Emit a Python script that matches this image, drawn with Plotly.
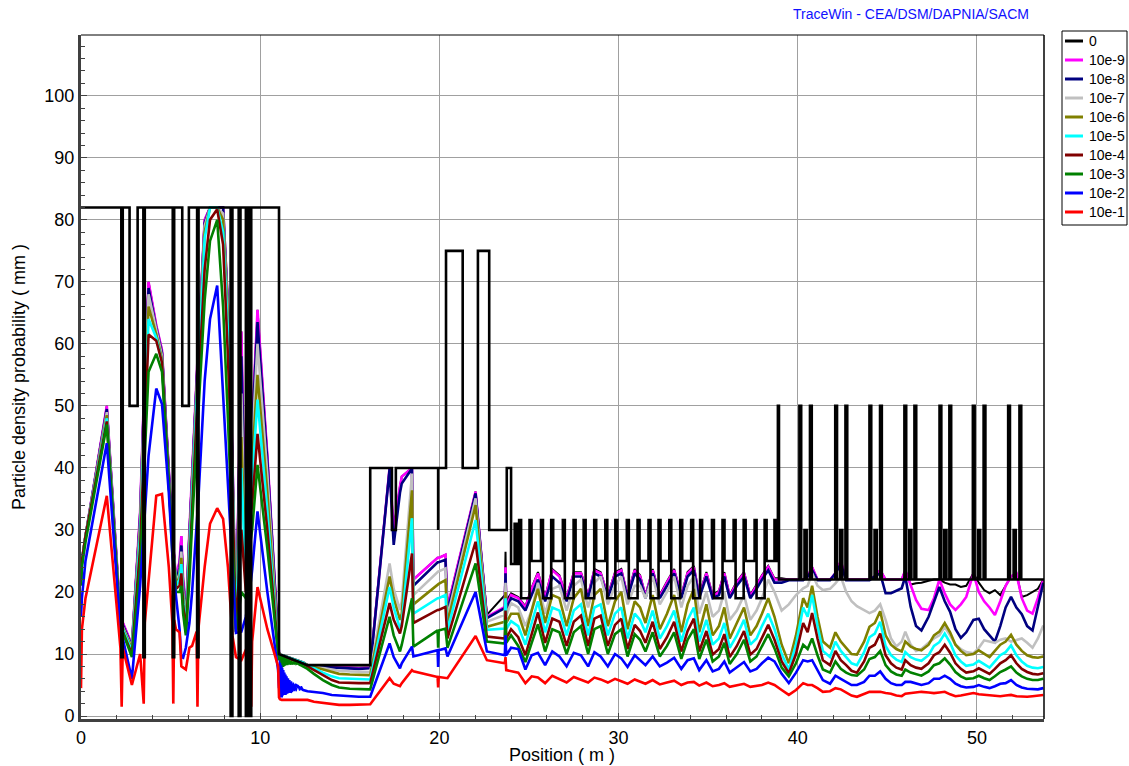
import plotly.graph_objects as go

# ---------------- data ----------------
series_names = ["0", "10e-9", "10e-8", "10e-7", "10e-6", "10e-5", "10e-4", "10e-3", "10e-2", "10e-1"]
series_colors = ["#000000", "#ff00ff", "#000080", "#c0c0c0", "#808000", "#00ffff", "#800000", "#008000", "#0000ff", "#ff0000"]

# Section A (0 - 11 m)
xA = [0.0, 0.05, 0.25, 1.44, 2.2, 2.27, 2.33, 2.84, 3.3, 3.5, 3.56, 3.77, 4.2, 4.52, 4.9, 5.1, 5.15, 5.2, 5.3, 5.5,
      5.6, 5.7, 5.85, 6.05, 6.2, 6.45, 6.5, 6.55, 6.9, 7.2, 7.6, 7.93, 8.2, 8.45, 8.65, 8.95, 9.2, 9.45, 9.5, 9.55,
      9.85, 10.4, 11.0]
magA = [22, 25, 29, 50, 16, 15.5, 15, 11.5, 33, 50, 56, 70, 63, 59, 39, 28, 27, 26, 22, 25, 29, 22, 16, 30, 40, 55, 57.5, 60, 80, 82, 82, 82, 66, 42, 14, 62, 25, 45, 46, 47, 65.5, 42, 11]
navyA = [22, 25, 29, 49.5, 15.5, 15.2, 14.7, 11.2, 32, 49, 55, 69, 62.5, 58.5, 38.5, 27.5, 26.5, 25.5, 21.5, 24, 27.5, 21, 15.5, 29, 39, 54, 56.5, 59, 79.5, 82, 82, 82, 66, 41, 14, 58, 24, 44, 45, 46, 63.5, 41, 11]
greyA = [22, 25, 29, 49, 15.2, 14.9, 14.4, 11, 31, 48, 54, 68, 62, 58, 38, 27.5, 26.5, 25.5, 21.5, 23, 26.5, 20, 15, 28, 38, 53, 55.5, 58, 79, 82, 82, 81, 65, 40, 14, 52, 23, 42, 43, 44, 60, 39, 11]
oliveA = [22, 25, 29, 48.5, 15, 14.7, 14.2, 10.8, 30, 46, 52, 66, 61.5, 57.5, 37.5, 27, 26, 25, 21, 22.5, 25.5, 19.5, 14.5, 27, 37, 52, 54.5, 57, 78, 82, 82, 80, 64, 39, 14, 45, 22, 39, 40, 41, 55, 36, 11]
cyanA = [22, 25, 29, 48, 14.8, 14.5, 14, 10.5, 29, 45, 50, 64, 61, 57, 37.5, 27, 26, 25, 21, 22, 24.5, 19, 14, 26, 36, 51, 53.5, 56, 77, 82, 82, 78, 62, 38, 13.8, 40, 21, 36, 37, 38, 51, 33, 10.5]
dredA = [22, 25, 29, 47.5, 14.5, 14, 13.8, 10, 27, 42, 47, 61.5, 60.5, 57, 37.5, 26.5, 25.5, 24.5, 20.5, 21, 23, 18, 13.5, 24, 34, 48, 50.5, 53, 72, 80, 81.7, 76, 58, 36, 13.6, 30, 20, 32, 33, 34, 45.5, 30, 10.5]
greenA = [21, 24, 28, 47, 14.5, 14, 13.5, 9.5, 24, 37, 42, 55.5, 58.4, 55.5, 37.5, 26, 25, 24, 20, 20, 21, 16.5, 13, 22, 31, 45, 47, 49, 67, 76.6, 80, 66, 48, 30, 13.5, 20, 19, 28, 29, 30, 40.5, 27, 10]
blueA = [16, 19, 25, 44, 14, 13.5, 12.5, 6, 21, 30.5, 33, 42, 52.8, 50.3, 36, 25, 23.5, 22, 19, 14, 9.5, 9.4, 11, 15, 20, 30, 33, 35, 54, 64, 69.4, 52, 38, 24.6, 13.4, 13.6, 16, 21, 22, 23.5, 33, 20, 7.4]
redA = [4.5, 14, 19, 35.5, 11, 1.5, 11, 5, 10, 2, 15, 22, 35.5, 35.8, 24, 15, 2, 15.5, 14, 13.5, 8, 7.8, 7.5, 11, 11.3, 13.6, 1.5, 14, 24, 31, 33.5, 31.8, 24, 13, 9.5, 9, 10.7, 11, 1.5, 12, 20.8, 14, 8]

# Section B (11 - 16.1 m)
xB = [11.05, 11.1, 11.2, 11.3, 11.4, 11.5, 11.7, 12.0, 12.4, 12.64, 13.0, 13.5, 14.0, 14.4, 15.0, 15.5, 16.1]
envB = [10, 10, 9.9, 9.8, 9.7, 9.6, 9.4, 9.1, 8.7, 8.2, 8.2, 8.2, 8.2, 8.2, 8.2, 8.2, 8.2]
magB = [10, 9.9, 9.8, 9.7, 9.6, 9.5, 9.3, 9.0, 8.6, 8.2, 8.1, 8.0, 7.9, 7.8, 7.8, 7.7, 7.8]
navyB = [10, 9.9, 9.8, 9.7, 9.6, 9.5, 9.3, 9.0, 8.6, 8.2, 8.0, 7.9, 7.8, 7.7, 7.7, 7.6, 7.7]
greyB = [10, 9.9, 9.8, 9.7, 9.6, 9.5, 9.3, 9.0, 8.6, 8.2, 8.0, 7.8, 7.5, 7.3, 7.2, 7.1, 7.1]
oliveB = [10, 9.9, 9.8, 9.7, 9.6, 9.5, 9.3, 9.0, 8.6, 8.2, 7.9, 7.5, 7.1, 6.8, 6.7, 6.6, 6.6]
cyanB = [10, 9.9, 9.8, 9.7, 9.6, 9.5, 9.3, 9.0, 8.6, 8.1, 7.7, 7.0, 6.4, 6.1, 6.0, 5.9, 5.9]
dredB = [10, 9.9, 9.7, 9.6, 9.4, 9.3, 9.1, 8.8, 8.4, 8.0, 7.4, 6.6, 5.8, 5.4, 5.3, 5.3, 5.3]
greenB = [9, 9.6, 8.2, 9.4, 8.3, 9.2, 8.5, 8.6, 8.0, 7.6, 6.8, 5.8, 5.0, 4.6, 4.4, 4.3, 4.3]
blueB = [4.5, 7.2, 3.0, 6.5, 3.4, 5.8, 3.8, 5.0, 4.2, 4.0, 3.9, 3.7, 3.4, 3.3, 3.2, 3.1, 3.1]
redB = [3.0, 2.7, 2.6, 2.6, 2.6, 2.6, 2.6, 2.6, 2.6, 2.6, 2.3, 2.1, 1.9, 1.8, 1.8, 1.8, 1.9]

noise_x = [11.08, 11.11, 11.14, 11.17, 11.2, 11.23, 11.26, 11.29, 11.32, 11.35, 11.38, 11.41, 11.44, 11.47, 11.5,
           11.54, 11.58, 11.62, 11.66, 11.7, 11.75, 11.8, 11.85, 11.9, 11.95, 12.0, 12.1, 12.2, 12.3, 12.4]
blue_noise = [9.0, 3.0, 8.6, 3.1, 8.2, 3.2, 7.8, 3.3, 7.4, 3.4, 7.0, 3.4, 6.7, 3.5, 6.4, 3.6, 6.1, 3.7, 5.8, 3.8,
              5.6, 3.9, 5.4, 4.0, 5.2, 4.0, 5.0, 4.1, 4.8, 4.2]
green_noise = [10.2, 7.6, 10.0, 7.7, 9.8, 7.8, 9.7, 7.9, 9.5, 8.0, 9.4, 8.1, 9.3, 8.2, 9.2, 8.2, 9.1, 8.3, 9.0, 8.3,
               8.9, 8.3, 8.8, 8.3, 8.7, 8.3, 8.6, 8.2, 8.4, 8.1]

# Section B2 (16.1 - 24 m)
xB2 = [16.14, 17.22, 17.45, 17.8, 17.9, 18.47, 18.55, 19.9, 19.93, 19.96, 20.34, 20.45, 22.02, 22.65, 23.65, 23.69, 23.73, 24.0]
envB2 = [8.2, 40, 30, 37, 38.6, 40, 22, 25.5, 25.5, 25.5, 26.0, 17.5, 36.2, 16.3, 19.5, 26.5, 18.5, 19.8]
magB2 = [7.8, 40, 30, 37, 38.6, 40, 22, 25.5, 25.5, 25.5, 26.0, 17.5, 36.2, 16.0, 17.6, 24, 17.5, 19.5]
navyB2 = [7.7, 39.8, 27.6, 36, 37.5, 39.9, 21, 24.8, 24.8, 24.8, 25.2, 16.8, 35.9, 15.8, 17.4, 23, 17.2, 19]
greyB2 = [7.1, 24.6, 20.5, 17.1, 18.5, 39.1, 19.5, 23.3, 23.3, 23.3, 23.8, 16.0, 35.1, 15.2, 16.3, 21.5, 16.2, 18.2]
oliveB2 = [6.6, 22.5, 19, 15.5, 16.5, 36.4, 18, 21.3, 21.3, 21.3, 21.9, 15.0, 34.0, 14.4, 15.2, 20, 15, 16.5]
cyanB2 = [5.9, 20.8, 17.5, 14.1, 15, 31.9, 16.5, 19, 19, 19, 19.5, 13.8, 31.6, 13.9, 14.1, 19, 14, 15.3]
dredB2 = [5.3, 18.2, 15.5, 13.3, 14.5, 26.2, 15, 17.1, 17.1, 17.1, 17.6, 12.5, 28.1, 12.8, 12.5, 17, 12.5, 14]
greenB2 = [4.3, 16.0, 13, 10.4, 11.5, 19.0, 11.2, 13.8, 11, 13.8, 14.1, 11.0, 24.6, 12.0, 11.7, 15.5, 11.8, 13]
blueB2 = [3.1, 11.7, 9.5, 7.7, 8.5, 11.2, 9.6, 10.6, 7.9, 10.6, 10.9, 9.6, 20.0, 10.4, 9.8, 13, 9.8, 11]
redB2 = [1.9, 6.1, 5.2, 4.8, 5.3, 7.4, 7.2, 6.3, 4.6, 6.3, 6.1, 6.1, 12.9, 9.0, 8.5, 9.5, 7.4, 7.2]

# Section C (24 - 39 m)
xC = [24.4, 24.8, 25.15, 25.5, 25.9, 26.3, 26.7, 27.1, 27.5, 27.9, 28.3, 28.65, 29.0, 29.4, 29.8, 30.15, 30.5, 30.9,
      31.2, 31.5, 31.9, 32.3, 32.7, 33.1, 33.5, 33.85, 34.2, 34.5, 34.9, 35.25, 35.6, 35.9, 36.2, 36.6, 37.0, 37.35,
      37.7, 38.0, 38.35, 38.7, 39.1]
magC = [19.0, 17.5, 20.5, 23.0, 19.0, 23.5, 22.5, 19.0, 23.0, 23.0, 19.3, 23.5, 23.0, 19.3, 23.0, 23.5, 19.3, 23.5, 22.5, 19.3, 23.5, 19.3, 21.5, 23.5, 19.3, 23.0, 24.0, 19.3, 23.0, 19.3, 20.0, 23.0, 19.3, 21.5, 23.0, 19.3, 21.0, 22.5, 24.0, 22.0, 22.0]
envC = [19.2, 17.7, 20.7, 23.2, 19.2, 23.7, 22.7, 19.2, 23.2, 23.2, 19.5, 23.7, 23.2, 19.5, 23.2, 23.7, 19.5, 23.7, 22.7, 19.5, 23.7, 19.5, 21.7, 23.7, 19.5, 23.2, 24.2, 19.5, 23.2, 19.5, 20.2, 23.2, 19.5, 21.7, 23.2, 19.5, 21.2, 22.7, 24.2, 22.2, 22.2]
navyC = [18.5, 17.0, 19.5, 22.0, 18.5, 22.5, 21.5, 18.5, 22.5, 22.5, 19.0, 23.0, 22.5, 19.0, 22.5, 23.0, 19.0, 23.0, 22.0, 19.0, 23.0, 19.0, 21.0, 23.0, 19.0, 22.5, 23.5, 19.0, 22.5, 19.0, 19.5, 22.5, 19.0, 21.0, 22.5, 19.0, 20.5, 22.0, 23.5, 21.5, 21.5]
greyC = [17.5, 14.5, 17.0, 21.5, 16.5, 20.5, 21.0, 17.0, 21.0, 22.0, 17.5, 21.5, 22.5, 18.0, 21.0, 22.5, 18.0, 21.0, 21.0, 19.0, 22.5, 18.0, 20.0, 22.5, 17.5, 21.0, 22.5, 16.5, 20.0, 16.0, 17.0, 20.0, 15.5, 17.0, 19.5, 15.5, 17.0, 19.0, 22.0, 20.0, 17.0]
oliveC = [16.5, 13.0, 17.0, 20.5, 15.0, 19.5, 19.0, 14.5, 19.0, 20.5, 14.5, 19.5, 20.5, 14.5, 18.5, 20.0, 14.0, 18.5, 17.5, 15.0, 19.5, 14.0, 16.5, 19.5, 13.5, 18.0, 20.5, 13.5, 18.0, 13.0, 14.5, 17.5, 12.5, 15.0, 17.5, 13.0, 14.5, 16.5, 19.0, 16.0, 11.5]
cyanC = [14.5, 11.5, 15.0, 18.5, 13.5, 17.5, 17.0, 13.0, 17.0, 18.0, 13.0, 17.5, 18.0, 13.0, 16.5, 17.5, 12.5, 16.5, 15.5, 13.5, 17.0, 12.5, 14.5, 17.0, 12.0, 15.5, 17.5, 12.0, 15.5, 11.5, 12.5, 15.0, 11.0, 13.0, 15.5, 11.5, 12.5, 14.5, 16.5, 14.0, 10.0]
dredC = [12.7, 9.8, 13.2, 16.7, 11.8, 15.7, 15.2, 11.3, 15.2, 16.2, 11.3, 15.7, 16.2, 11.3, 14.7, 15.7, 10.8, 14.7, 13.7, 11.8, 15.2, 10.8, 12.7, 15.2, 10.4, 13.7, 15.7, 10.4, 13.7, 9.9, 10.8, 13.2, 9.5, 11.3, 13.7, 9.9, 10.8, 12.7, 14.7, 12.3, 8.8]
greenC = [11.3, 8.7, 11.8, 14.8, 10.4, 14.0, 13.5, 10.0, 13.5, 14.5, 10.0, 14.0, 14.5, 10.0, 13.2, 14.0, 9.6, 13.2, 12.3, 10.4, 13.5, 9.6, 11.3, 13.5, 9.2, 12.3, 14.0, 9.2, 12.3, 8.8, 9.6, 11.8, 8.4, 10.0, 12.3, 8.8, 9.6, 11.3, 13.2, 10.9, 7.8]
blueC = [10.8, 7.5, 9.8, 10.2, 8.2, 10.4, 9.6, 8.0, 10.2, 9.8, 8.0, 10.3, 9.6, 8.0, 10.0, 9.3, 7.9, 9.8, 9.0, 8.2, 9.6, 8.0, 8.6, 9.4, 7.6, 9.0, 9.3, 7.4, 9.0, 7.2, 7.6, 8.8, 7.0, 7.8, 8.7, 7.2, 7.6, 8.5, 9.4, 8.8, 6.8]
redC = [7.0, 5.3, 6.4, 6.2, 5.3, 6.5, 6.0, 5.4, 6.3, 5.9, 5.4, 6.2, 5.9, 5.4, 6.0, 5.6, 5.2, 5.9, 5.5, 5.2, 5.8, 5.1, 5.4, 5.7, 5.0, 5.4, 5.5, 4.9, 5.4, 4.8, 5.0, 5.3, 4.7, 4.9, 5.2, 4.7, 4.9, 5.0, 5.4, 5.0, 4.2]

# Section D (39.5 - 53.7 m)
xD = [39.5, 39.9, 40.3, 40.55, 40.8, 41.1, 41.4, 41.8, 42.1, 42.4, 42.7, 43.0, 43.3, 43.7, 44.0, 44.3, 44.6, 44.9,
      45.2, 45.5, 45.8, 46.0, 46.3, 46.6, 46.9, 47.3, 47.6, 47.9, 48.2, 48.5, 48.8, 49.1, 49.4, 49.8, 50.1, 50.4,
      50.7, 51.0, 51.3, 51.6, 51.9, 52.2, 52.5, 52.8, 53.1, 53.4, 53.7]
envD = [22, 22, 22, 22.5, 24, 22, 22, 22, 23, 25, 22, 22, 22, 22, 22, 22.5, 23.5, 22, 22, 22, 22, 23.5, 21.2, 21.4, 21.5, 21.8, 22, 22, 21.5, 21.2, 21.2, 20.8, 21, 23, 21.5, 20.3, 19.8, 20.3, 19.5, 21, 22.5, 23, 19.2, 19.5, 20, 20.5, 22]
magD = [22, 22, 22, 22.5, 24, 22, 22, 22, 23, 25, 22, 22, 22, 22, 22, 22.5, 23.5, 22, 22, 22, 22, 23.5, 21, 18.7, 17.3, 17.1, 19, 22, 19.8, 18, 17.1, 18, 19.2, 23, 20, 18.5, 17.5, 16.3, 18.5, 21, 22.5, 23, 19, 17, 16.5, 19, 22]
navyD = [21.9, 21.9, 21.9, 22.5, 23.5, 21.9, 21.9, 21.9, 23, 24.5, 21.9, 21.9, 21.9, 21.9, 21.9, 22.5, 23, 19.8, 19.8, 20.2, 20.6, 22.5, 17.6, 14.5, 13.8, 16, 18.5, 20.8, 18.5, 16.8, 14, 12.6, 13.5, 15.5, 15.7, 14, 13, 12, 14.5, 17.5, 19.2, 17.5, 16.4, 14.5, 13.8, 17.5, 21.5]
greyD = [18, 19.5, 20.6, 21, 23, 21, 20.3, 20.5, 21.4, 22.5, 20, 18.5, 17.7, 17, 16.6, 17, 18, 15.5, 12.5, 11.2, 12, 13.6, 11.5, 10.5, 10.8, 11.8, 12.5, 13, 14.4, 13, 11.5, 10.8, 10.3, 10.1, 11, 12.2, 12, 11.8, 12.3, 12.5, 12, 12.3, 12.5, 11.8, 11, 12.5, 14.6]
oliveD = [8.5, 13, 19, 17.5, 21, 16, 12, 11, 13.5, 12, 11, 10, 9.9, 12, 14.4, 15, 16.9, 13, 11.5, 10.8, 10.4, 12, 11.2, 10.8, 10.6, 11.5, 13, 13.6, 15, 13.5, 11.5, 10.5, 9.8, 10, 10.6, 10, 9.5, 10.5, 11.5, 12, 13.1, 11.5, 10.5, 9.8, 9.5, 9.4, 9.6]
cyanD = [7.5, 11.5, 17.5, 16, 19.5, 14.5, 10.5, 9.5, 12, 10.5, 9.5, 8.5, 8.2, 10.3, 12.7, 13.3, 15.2, 11.3, 9.8, 9.1, 8.7, 10.3, 9.5, 9.1, 8.9, 9.8, 11.3, 11.9, 13.3, 11.8, 9.8, 8.8, 8.1, 8.3, 8.9, 8.3, 7.8, 8.8, 9.8, 10.3, 11.4, 9.8, 8.8, 8.1, 7.8, 7.7, 7.9]
dredD = [6.9, 10, 15, 13.5, 16.6, 12.5, 9, 8.2, 10.5, 9, 8.2, 7.3, 7, 8.8, 11, 11.5, 13.3, 9.8, 8.5, 7.8, 7.5, 9, 8.2, 7.8, 7.6, 8.5, 9.8, 10.3, 11.5, 10.2, 8.5, 7.6, 7, 7.2, 7.7, 7.2, 6.8, 7.6, 8.5, 9, 9.8, 8.5, 7.6, 7.1, 6.8, 6.7, 6.9]
greenD = [6.4, 8.5, 11.5, 10.8, 12.5, 9.8, 7.5, 7, 8.8, 7.6, 7, 6.6, 6.5, 7.5, 9.2, 9.5, 10.5, 8.2, 7.2, 6.7, 6.5, 7.5, 7, 6.7, 6.5, 7.2, 8.2, 8.5, 9.3, 8.3, 7.1, 6.4, 6.0, 6.1, 6.5, 6.1, 5.8, 6.4, 7.1, 7.5, 8.0, 7.0, 6.4, 6.0, 5.8, 5.8, 6.0]
blueD = [5.3, 7, 9, 8.8, 9, 7.5, 5.8, 5.2, 6.5, 6, 5.5, 5, 5, 5.5, 6.5, 6.5, 7.2, 6, 5.3, 5, 5, 5.5, 5.5, 5.2, 5, 5.3, 6, 6, 6.5, 6, 5.2, 4.8, 4.6, 4.7, 5.0, 4.7, 4.5, 4.8, 5.2, 5.3, 5.8, 5.0, 4.6, 4.4, 4.3, 4.3, 4.5]
redD = [3.4, 4.2, 5.3, 5.0, 5.0, 4.5, 3.9, 4.0, 4.5, 4.3, 3.8, 3.3, 3.1, 3.5, 3.9, 3.9, 3.9, 3.7, 3.6, 3.3, 3.2, 3.6, 3.7, 3.8, 3.9, 3.8, 3.7, 3.8, 3.9, 3.5, 3.2, 3.3, 3.5, 3.7, 3.5, 3.4, 3.3, 3.2, 3.2, 3.3, 3.4, 3.2, 3.1, 3.1, 3.2, 3.3, 3.4]

# Aperture (black step line) : explicit vertices for 0 - 24 m
ap_x_first = [0, 2.25, 2.25, 2.33, 2.33, 2.71, 2.71, 3.16, 3.16, 3.48, 3.48, 3.56, 3.56, 5.12, 5.12, 5.2, 5.2, 5.65,
              5.65, 6.02, 6.02, 6.48, 6.48, 6.56, 6.56, 8.35, 8.35, 8.45, 8.45, 8.8, 8.8, 8.9, 8.9, 9.2, 9.2, 9.3,
              9.3, 9.4, 9.4, 9.5, 9.5, 11.05, 11.05, 12.64, 16.14, 16.14, 17.35, 17.35, 17.57, 17.57, 19.93, 19.93,
              19.93, 20.37, 20.37, 21.3, 21.3, 22.15, 22.15, 22.78, 22.78, 23.76, 23.76, 24.0, 24.0]
ap_y_first = [82, 82, 9.5, 9.5, 82, 82, 50, 50, 82, 82, 9.5, 9.5, 82, 82, 9.5, 9.5, 82, 82,
              50, 50, 82, 82, 9.5, 9.5, 82, 82, 0, 0, 82, 82, 0, 0, 82, 82, 0, 0,
              82, 82, 0, 0, 82, 82, 10, 8.2, 8.2, 40, 40, 30, 30, 40, 40, 30,
              40, 40, 75, 75, 40, 40, 75, 75, 30, 30, 40, 40, 24.5]
# periodic section: pulse start positions, pulse tops and level after each pulse
pulseC_start = [24.2, 24.45, 25.03, 25.67, 26.24, 26.89, 27.49, 28.05, 28.64, 29.26, 29.82, 30.46, 31.06, 31.67,
                32.23, 32.83, 33.44, 34.05, 34.55, 35.21, 35.8, 36.42, 36.98, 37.59, 38.15, 38.7]
pulseC_top = [31, 31.6, 31.6, 31.6, 31.6, 31.6, 31.6, 31.6, 31.6, 31.6, 31.6, 31.6, 31.6, 31.6,
              31.6, 31.6, 31.6, 31.6, 31.6, 31.6, 31.6, 31.6, 31.6, 31.6, 31.6, 31.6]
pulseC_after = [24.5, 19, 25, 19, 25, 19, 25, 19, 25, 19, 25, 19, 25, 19,
                25, 19, 25, 19, 25, 19, 25, 19, 25, 19, 25, 25]
pulse_width = 0.11
entry_D = [38.89, 38.95]          # single pulse up to 50 before the 22 mm section
levelD_base = 22
levelD_top = 50
levelD_mid = 30
pairD_a = [40.09, 42.09, 44.0, 45.95, 47.91, 49.77, 51.74]
pairD_b = [40.78, 42.76, 44.69, 46.61, 48.56, 50.47, 52.47]
x_end = 53.74

# ---------------- build traces ----------------
X = xA + xB + xB2 + xC + xD
env = magA + envB + envB2 + envC + envD
vals = [
    magA + magB + magB2 + magC + magD,
    navyA + navyB + navyB2 + navyC + navyD,
    greyA + greyB + greyB2 + greyC + greyD,
    oliveA + oliveB + oliveB2 + oliveC + oliveD,
    cyanA + cyanB + cyanB2 + cyanC + cyanD,
    dredA + dredB + dredB2 + dredC + dredD,
    greenA + greenB + greenB2 + greenC + greenD,
    blueA + blueB + blueB2 + blueC + blueD,
    redA + redB + redB2 + redC + redD,
]

# aperture vertices
ap_x = list(ap_x_first)
ap_y = list(ap_y_first)
for s, top, after in zip(pulseC_start, pulseC_top, pulseC_after):
    ap_x += [s, s, s + pulse_width, s + pulse_width]
    ap_y += [ap_y[-1], top, top, after]
ap_x += [entry_D[0], entry_D[0], entry_D[1], entry_D[1]]
ap_y += [ap_y[-1], levelD_top, levelD_top, levelD_base]
for a, b in zip(pairD_a, pairD_b):
    m = 0.5 * (a + b)
    ap_x += [a, a, a + 0.1, a + 0.1, m - 0.06, m - 0.06, m + 0.06, m + 0.06, b - 0.1, b - 0.1, b, b]
    ap_y += [levelD_base, levelD_top, levelD_top, levelD_base, levelD_base, levelD_mid, levelD_mid,
             levelD_base, levelD_base, levelD_top, levelD_top, levelD_base]
ap_x += [x_end]
ap_y += [levelD_base]

fig = go.Figure()
fig.add_trace(go.Scatter(x=X, y=env, mode="lines", line=dict(color="#000000", width=2), name="0 envelope",
                         showlegend=False, hoverinfo="skip"))
for i, (yv, nm, col) in enumerate(zip(vals, series_names[1:], series_colors[1:])):
    fig.add_trace(go.Scatter(x=X, y=yv, mode="lines", line=dict(color=col, width=2.6), name=nm, showlegend=False))
    if nm == "10e-3":
        fig.add_trace(go.Scatter(x=noise_x, y=green_noise, mode="lines", line=dict(color=col, width=1.4),
                                 showlegend=False, hoverinfo="skip"))
    if nm == "10e-2":
        fig.add_trace(go.Scatter(x=noise_x, y=blue_noise, mode="lines", line=dict(color=col, width=1.4),
                                 showlegend=False, hoverinfo="skip"))
fig.add_trace(go.Scatter(x=ap_x, y=ap_y, mode="lines", line=dict(color="#000000", width=2.6), name="0",
                         showlegend=False))

# ---------------- layout ----------------
W, H = 1129, 766
L, R, T, B = 81, 1044, 35, 719


def px(xp):
    return (xp - L) / (R - L)


def py(yp):
    return (B - yp) / (B - T)


FONT = "Arial, Liberation Sans, sans-serif"
axis_common = dict(showgrid=True, gridcolor="#a0a0a0", gridwidth=1, zeroline=False,
                   showline=True, linecolor="#404040", linewidth=3,
                   ticks="inside", ticklen=6, tickcolor="#404040", tickwidth=1,
                   tickfont=dict(family=FONT, size=18, color="#000000"))
fig.update_layout(
    width=W, height=H,
    margin=dict(l=L, r=W - R, t=T, b=H - B, pad=0),
    paper_bgcolor="#ffffff", plot_bgcolor="#ffffff",
    showlegend=False,
    xaxis=dict(range=[0, x_end], dtick=10, tick0=0,
               minor=dict(dtick=2, ticks="inside", ticklen=4, tickcolor="#404040", showgrid=False),
               **axis_common),
    yaxis=dict(range=[-0.48, 109.8], dtick=10, tick0=0,
               minor=dict(dtick=2, ticks="inside", ticklen=4, tickcolor="#404040", showgrid=False),
               **axis_common),
)

shapes = [
    dict(type="line", xref="paper", yref="paper", x0=0, x1=1, y0=1, y1=1, line=dict(color="#000000", width=1)),
    dict(type="line", xref="paper", yref="paper", x0=1, x1=1, y0=0, y1=1, line=dict(color="#000000", width=1.5)),
    dict(type="rect", xref="paper", yref="paper", x0=px(1062), x1=px(1127), y0=py(225), y1=py(31),
         line=dict(color="#000000", width=1), fillcolor="#ffffff"),
]
annotations = [
    dict(text="TraceWin - CEA/DSM/DAPNIA/SACM", xref="paper", yref="paper", x=px(1031), y=py(14),
         xanchor="right", yanchor="middle", showarrow=False, font=dict(family=FONT, size=14, color="#1010ff")),
    dict(text="Position ( m )", xref="paper", yref="paper", x=px(562), y=py(755),
         xanchor="center", yanchor="middle", showarrow=False, font=dict(family=FONT, size=18, color="#000000")),
    dict(text="Particle density probability ( mm )", xref="paper", yref="paper", x=px(19), y=py(377),
         xanchor="center", yanchor="middle", textangle=-90, showarrow=False,
         font=dict(family=FONT, size=18, color="#000000")),
]
for i, (nm, col) in enumerate(zip(series_names, series_colors)):
    yy = 41 + 19 * i
    shapes.append(dict(type="line", xref="paper", yref="paper", x0=px(1065), x1=px(1083), y0=py(yy), y1=py(yy),
                       line=dict(color=col, width=3)))
    annotations.append(dict(text=nm, xref="paper", yref="paper", x=px(1087), y=py(yy), xanchor="left",
                            yanchor="middle", showarrow=False, font=dict(family=FONT, size=14, color="#000000")))
fig.update_layout(shapes=shapes, annotations=annotations)

fig.write_html("out.html", config={"displayModeBar": False},
               post_script="document.body.style.margin='0px';document.body.style.padding='0px';")
